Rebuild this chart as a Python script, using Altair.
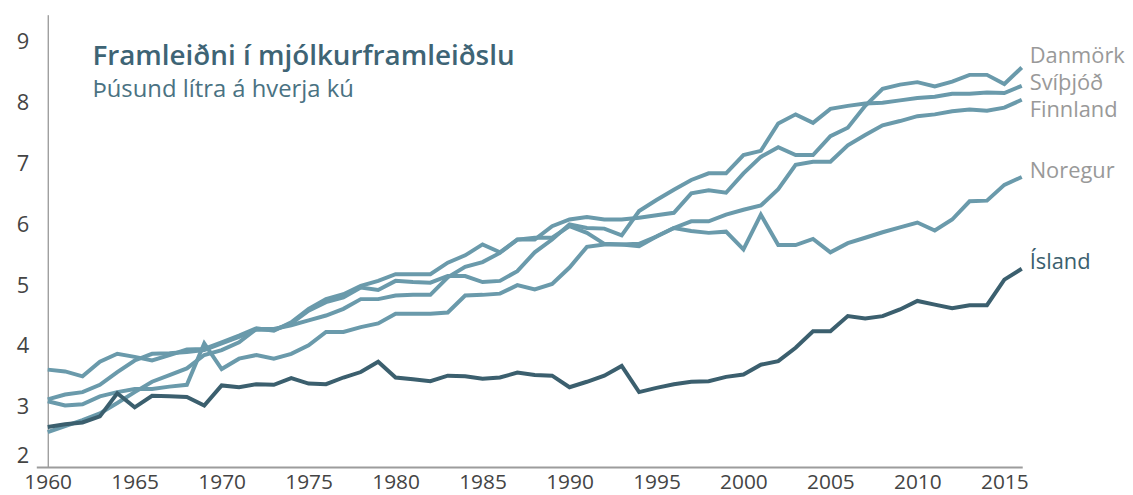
import altair as alt
import pandas as pd

years = list(range(1960, 2017))

danmork = [3.61, 3.58, 3.50, 3.74, 3.87, 3.82, 3.76, 3.85, 3.94, 3.95,
           4.06, 4.17, 4.29, 4.25, 4.39, 4.61, 4.77, 4.85, 4.99, 5.07,
           5.18, 5.18, 5.18, 5.37, 5.49, 5.67, 5.54, 5.75, 5.75, 5.97,
           6.08, 6.12, 6.08, 6.08, 6.11, 6.15, 6.19, 6.51, 6.56, 6.52,
           6.84, 7.11, 7.27, 7.14, 7.14, 7.45, 7.59, 7.95, 8.23, 8.30,
           8.34, 8.27, 8.35, 8.46, 8.46, 8.31, 8.58]
svithjod = [3.12, 3.20, 3.24, 3.36, 3.57, 3.76, 3.87, 3.88, 3.90, 3.93,
            4.04, 4.15, 4.27, 4.26, 4.37, 4.58, 4.72, 4.80, 4.96, 4.92,
            5.07, 5.05, 5.04, 5.15, 5.15, 5.05, 5.07, 5.23, 5.54, 5.75,
            6.00, 5.94, 5.93, 5.82, 6.22, 6.40, 6.57, 6.73, 6.84, 6.84,
            7.14, 7.21, 7.66, 7.81, 7.67, 7.90, 7.95, 7.99, 8.00, 8.04,
            8.08, 8.10, 8.15, 8.15, 8.17, 8.16, 8.28]
finnland = [3.09, 3.02, 3.04, 3.17, 3.24, 3.29, 3.29, 3.33, 3.36, 4.04,
            3.62, 3.79, 3.85, 3.79, 3.87, 4.01, 4.23, 4.23, 4.31, 4.37,
            4.53, 4.53, 4.53, 4.55, 4.83, 4.84, 4.86, 5.00, 4.93, 5.02,
            5.29, 5.63, 5.67, 5.67, 5.64, 5.80, 5.94, 6.05, 6.05, 6.16,
            6.24, 6.31, 6.58, 6.98, 7.03, 7.03, 7.30, 7.47, 7.63, 7.70,
            7.78, 7.81, 7.86, 7.89, 7.87, 7.92, 8.05]
noregur = [2.58, 2.68, 2.78, 2.89, 3.06, 3.24, 3.41, 3.52, 3.63, 3.85,
           3.93, 4.06, 4.28, 4.28, 4.34, 4.42, 4.50, 4.61, 4.77, 4.77,
           4.83, 4.84, 4.84, 5.13, 5.30, 5.38, 5.53, 5.75, 5.78, 5.78,
           5.97, 5.86, 5.68, 5.67, 5.68, 5.80, 5.94, 5.89, 5.86, 5.88,
           5.59, 6.16, 5.66, 5.66, 5.76, 5.54, 5.69, 5.78, 5.87, 5.95,
           6.03, 5.90, 6.08, 6.38, 6.39, 6.65, 6.78]
island = [2.665, 2.71, 2.74, 2.84, 3.22, 2.99, 3.18, 3.17, 3.16, 3.02,
          3.35, 3.32, 3.37, 3.36, 3.47, 3.38, 3.37, 3.48, 3.57, 3.74,
          3.48, 3.45, 3.42, 3.51, 3.50, 3.46, 3.48, 3.56, 3.52, 3.51,
          3.32, 3.41, 3.51, 3.67, 3.24, 3.31, 3.37, 3.41, 3.42, 3.49,
          3.53, 3.69, 3.75, 3.97, 4.24, 4.24, 4.49, 4.45, 4.49, 4.60,
          4.74, 4.68, 4.62, 4.67, 4.67, 5.09, 5.27]

countries = ["Danmörk", "Svíþjóð", "Finnland", "Noregur", "Ísland"]
series = [danmork, svithjod, finnland, noregur, island]
x_ticks = list(range(1960, 2016, 5))
y_ticks = list(range(2, 10))
title_text = "Framleiðni í mjólkurframleiðslu"
subtitle_text = "Þúsund lítra á hverja kú"

rows = []
for c, vals in zip(countries, series):
    for yr, v in zip(years, vals):
        rows.append({"year": yr, "country": c, "value": v})
df = pd.DataFrame(rows)

LIGHT = "#6a9aab"
DARK = "#3b5f6e"
GRAY = "#999999"
FONT = "Open Sans"
W, H = 981, 456

xscale = alt.Scale(domain=[1960, 2016], nice=False, zero=False)
yscale = alt.Scale(domain=[2, 9.45], nice=False, zero=False)

x_enc = alt.X("year:Q", scale=xscale,
              axis=alt.Axis(values=x_ticks, format="d", labelFont=FONT, labelFontSize=21,
                            labelColor="#444444", labelPadding=4, labelFlush=False,
                            ticks=False, domain=False, grid=False, title=None))
y_enc = alt.Y("value:Q", scale=yscale,
              axis=alt.Axis(values=y_ticks, labelFont=FONT, labelFontSize=22,
                            labelColor="#444444", labelPadding=19, labelFlush=True,
                            ticks=False, domainColor="#777777", domainWidth=1,
                            grid=False, title=None))

base = alt.Chart(df).encode(x=x_enc, y=y_enc)

xrule = alt.Chart(pd.DataFrame({"a": [0]})).mark_rule(color="#9c9c9c", strokeWidth=2).encode(
    x=alt.value(-11), x2=alt.value(982), y=alt.value(H))

light = base.transform_filter(alt.datum.country != "Ísland").mark_line(
    color=LIGHT, strokeWidth=4).encode(detail="country:N")
dark = base.transform_filter(alt.datum.country == "Ísland").mark_line(
    color=DARK, strokeWidth=4)

label_dy = {"Danmörk": -5, "Svíþjóð": 4, "Finnland": 17, "Noregur": 1, "Ísland": 0}
labels = []
for c in countries:
    labels.append(
        base.transform_filter((alt.datum.country == c) & (alt.datum.year == 2016))
        .mark_text(align="left", baseline="alphabetic", dx=8, dy=label_dy[c], font=FONT,
                   fontSize=22, color=DARK if c == "Ísland" else GRAY)
        .encode(text="country:N")
    )

title = alt.Chart(pd.DataFrame({"t": [title_text]})).mark_text(
    align="left", baseline="alphabetic", font=FONT, fontSize=28, fontWeight=600,
    color="#3e6475").encode(x=alt.value(45), y=alt.value(51), text="t:N")
subtitle = alt.Chart(pd.DataFrame({"t": [subtitle_text]})).mark_text(
    align="left", baseline="alphabetic", font=FONT, fontSize=24,
    color="#4a7282").encode(x=alt.value(45), y=alt.value(83), text="t:N")

chart = alt.layer(xrule, light, dark, *labels, title, subtitle).properties(
    width=W, height=H,
    autosize=alt.AutoSizeParams(type="none"),
    padding={"left": 40, "top": 5, "right": 104, "bottom": 26},
).configure_view(stroke=None)

chart.save("out.html", embed_options={"renderer": "svg", "actions": False})
